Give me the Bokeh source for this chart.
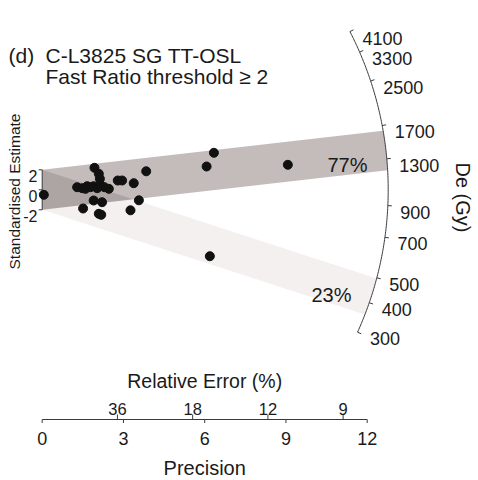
import numpy as np
from bokeh.plotting import figure
from bokeh.models import Range1d
from bokeh.embed import file_html
from bokeh.resources import INLINE
from bokeh.core.properties import value

# ---------------- data ----------------
precision = [0.06, 1.29, 1.48, 1.60, 1.66, 1.78, 1.90, 2.03, 2.15, 2.30, 2.46,
             1.93, 2.09, 2.13, 2.79, 2.95, 3.38, 3.84,
             1.90, 2.21, 1.51, 2.09, 2.18, 3.26, 3.57,
             6.34, 6.07, 9.07, 6.19]
std_estimate = [-0.50, 0.26, 0.16, 0.10, 0.36, 0.26, 0.36, 0.16, 0.50, 0.26, 0.10,
                2.20, 1.60, 1.10, 0.93, 0.93, 0.66, 1.85,
                -1.07, -1.24, -1.87, -2.40, -2.50, -2.05, -1.05,
                3.70, 2.33, 2.50, -6.64]
reference_de = 1019.0                 # Gy, centre of the z axis
component_de = [1390.0, 423.0]        # Gy
component_labels = ["77%", "23%"]
de_ticks = [300, 400, 500, 700, 900, 1300, 1700, 2500, 3300, 4100]
precision_ticks = [0, 3, 6, 9, 12]
rel_error_ticks = [36, 18, 12, 9]
z_ticks = [-2, 0, 2]
title_tag = "(d)"
title_1 = "C-L3825 SG TT-OSL"
title_2 = "Fast Ratio threshold \u2265 2"

# ---------------- layout ----------------
W, H = 478, 480
X0, Y0 = 41.7, 189.3      # pixel of origin (precision 0, z 0)
KX, KY = 27.083, 10.0     # pixels per unit
R_PX = 346.0              # arc radius in pixels
FONT = value("Liberation Sans")
TXT = "#1a1a1a"
AX = "#3a3a3a"

def xd(px):
    return (px - X0) / KX

def yd(py):
    return (Y0 - py) / KY

z0 = np.log(reference_de)

def arc_point(slope, r=R_PX):
    phi = np.arctan(slope * KY / KX)
    return r * np.cos(phi) / KX, r * np.sin(phi) / KY

p = figure(width=W, height=H, x_range=Range1d(xd(0), xd(W)),
           y_range=Range1d(yd(H), yd(0)), x_axis_type=None, y_axis_type=None,
           toolbar_location=None, output_backend="svg", min_border=0)
p.grid.visible = False
p.outline_line_color = None
p.background_fill_color = "white"
p.border_fill_color = "white"

# ---------------- bands ----------------
band_fill = ["#c4bcba", "#f1ecec"]
band_alpha = [1.0, 0.8]
slopes = [np.log(c) - z0 for c in component_de]
for s, fc, fa in zip(slopes[::-1], band_fill[::-1], band_alpha[::-1]):
    ends = []
    for off in (2.0, -2.0):
        a = KX**2 + KY**2 * s**2
        b = 2 * KY**2 * s * off
        cc = KY**2 * off**2 - R_PX**2
        x = (-b + np.sqrt(b * b - 4 * a * cc)) / (2 * a)
        ends.append((x, s * x + off))
    phi_t = np.arctan2(ends[0][1] * KY, ends[0][0] * KX)
    phi_b = np.arctan2(ends[1][1] * KY, ends[1][0] * KX)
    ph = np.linspace(phi_t, phi_b, 30)
    xs = [0.0] + list(R_PX * np.cos(ph) / KX) + [0.0]
    ys = [2.0] + list(R_PX * np.sin(ph) / KY) + [-2.0]
    p.patch(xs, ys, fill_color=fc, fill_alpha=fa, line_color=None)

# overlap of the two bands (darker)
xs_cross = 4.0 / (slopes[0] - slopes[1])
p.patch([0.0, xs_cross, 0.0], [2.0, slopes[1] * xs_cross + 2.0, -2.0],
        fill_color="#000000", fill_alpha=0.12, line_color=None)

# component labels
lab_x = [xd(347), xd(331)]
lab_dy = [9.7, 11.2]
for s, lx, dy, t in zip(slopes, lab_x, lab_dy, component_labels):
    p.text(x=[lx], y=[s * lx - dy / KY], text=[t],
           text_font=FONT, text_font_size="20px", text_color=TXT,
           text_align="center", text_baseline="alphabetic")

# ---------------- arc axis ----------------
s_lo = np.log(min(de_ticks)) - z0
s_hi = np.log(max(de_ticks)) - z0
ph = np.linspace(np.arctan(s_lo * KY / KX), np.arctan(s_hi * KY / KX), 200)
p.line(R_PX * np.cos(ph) / KX, R_PX * np.sin(ph) / KY, line_color=AX, line_width=1)
tx0, ty0, tx1, ty1, lx, ly = [], [], [], [], [], []
for d in de_ticks:
    s = np.log(d) - z0
    a0 = arc_point(s)
    a1 = arc_point(s, R_PX + 4)
    tx0.append(a0[0]); ty0.append(a0[1]); tx1.append(a1[0]); ty1.append(a1[1])
    lx.append(a0[0] + 12.5 / KX)
    ly.append(a0[1] - 6.4 / KY)
p.segment(tx0, ty0, tx1, ty1, line_color=AX, line_width=1)
p.text(x=lx, y=ly, text=[str(d) for d in de_ticks], text_font=FONT,
       text_font_size="18px", text_color=TXT, text_align="left",
       text_baseline="alphabetic")
p.text(x=[xd(462)], y=[yd(197)], text=["De (Gy)"], angle=-np.pi / 2,
       text_font=FONT, text_font_size="20px", text_color=TXT,
       text_align="center", text_baseline="middle")

# ---------------- left z axis ----------------
p.segment([0], [min(z_ticks)], [0], [max(z_ticks)], line_color=AX, line_width=1)
p.segment([0] * len(z_ticks), z_ticks, [-3.5 / KX] * len(z_ticks), z_ticks,
          line_color=AX, line_width=1)
p.text(x=[xd(37)] * len(z_ticks), y=[t - 5.8 / KY for t in z_ticks],
       text=[str(t) for t in z_ticks], text_font=FONT, text_font_size="16px",
       text_color=TXT, text_align="right", text_baseline="alphabetic")
p.text(x=[xd(14)], y=[yd(191)], text=["Standardised Estimate"], angle=np.pi / 2,
       text_font=FONT, text_font_size="15.5px", text_color=TXT,
       text_align="center", text_baseline="middle")

# ---------------- precision / relative error axis ----------------
ya = yd(419)
p.segment([min(precision_ticks)], [ya], [max(precision_ticks)], [ya],
          line_color=AX, line_width=1)
p.segment(precision_ticks, [ya] * 5, precision_ticks, [yd(422.5)] * 5,
          line_color=AX, line_width=1)
p.text(x=precision_ticks, y=[yd(438.3)] * 5, text=[str(t) for t in precision_ticks],
       text_font=FONT, text_font_size="18px", text_color=TXT,
       text_align="center", text_baseline="alphabetic")
p.text(x=[6], y=[yd(467.3)], text=["Precision"], text_font=FONT,
       text_font_size="20px", text_color=TXT, text_align="center",
       text_baseline="alphabetic")
rx = [100.0 / r for r in rel_error_ticks]
p.segment(rx, [ya] * 4, rx, [yd(414)] * 4, line_color=AX, line_width=1)
p.text(x=rx, y=[yd(408.3)] * 4, text=[str(r) for r in rel_error_ticks],
       text_font=FONT, text_font_size="16.5px", text_color=TXT,
       text_align="center", text_baseline="alphabetic")
p.text(x=[6], y=[yd(380.7)], text=["Relative Error (%)"], text_font=FONT,
       text_font_size="19.5px", text_color=TXT, text_align="center",
       text_baseline="alphabetic")

# ---------------- points ----------------
p.scatter(precision, std_estimate, size=9, fill_color="#111111",
          line_color="#111111")

# ---------------- title ----------------
p.text(x=[xd(8), xd(45), xd(45)], y=[yd(55), yd(55), yd(76)],
       text=[title_tag, title_1, title_2], text_font=FONT,
       text_font_size="21px", text_color=TXT, text_align="left",
       text_baseline="alphabetic")

open("out.html", "w").write(file_html(p, INLINE))
